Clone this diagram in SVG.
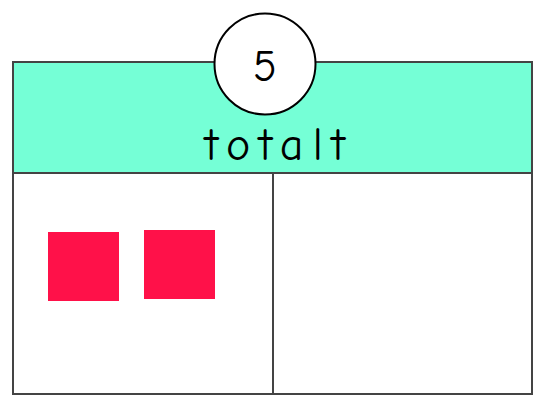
<svg xmlns="http://www.w3.org/2000/svg" width="535" height="396" viewBox="0 0 535 396">
<style>
.ln{stroke:#444;stroke-width:2}
.sq{fill:#FF1149}
.tx{font-family:"Comic Neue","Liberation Sans",sans-serif;fill:#000;text-anchor:middle}
</style>
<rect width="535" height="396" fill="#fff"/>
<g id="header">
<rect x="13" y="62" width="519" height="111" fill="#75FFD6" class="ln"/>
<text class="tx" x="275" y="160" font-size="46" textLength="140" lengthAdjust="spacing">totalt</text>
</g>
<g id="left-cell">
<rect x="13" y="173" width="260" height="221" fill="#fff" class="ln"/>
<rect class="sq" x="48" y="232" width="71" height="69"/>
<rect class="sq" x="144" y="230" width="71" height="69"/>
</g>
<g id="right-cell">
<rect x="273" y="173" width="259" height="221" fill="#fff" class="ln"/>
</g>
<g id="circle">
<circle cx="265" cy="64" r="50.5" fill="#fff" stroke="#000" stroke-width="2"/>
<text class="tx" x="265" y="81" font-size="44">5</text>
</g>
<g id="connectors"/>
</svg>
